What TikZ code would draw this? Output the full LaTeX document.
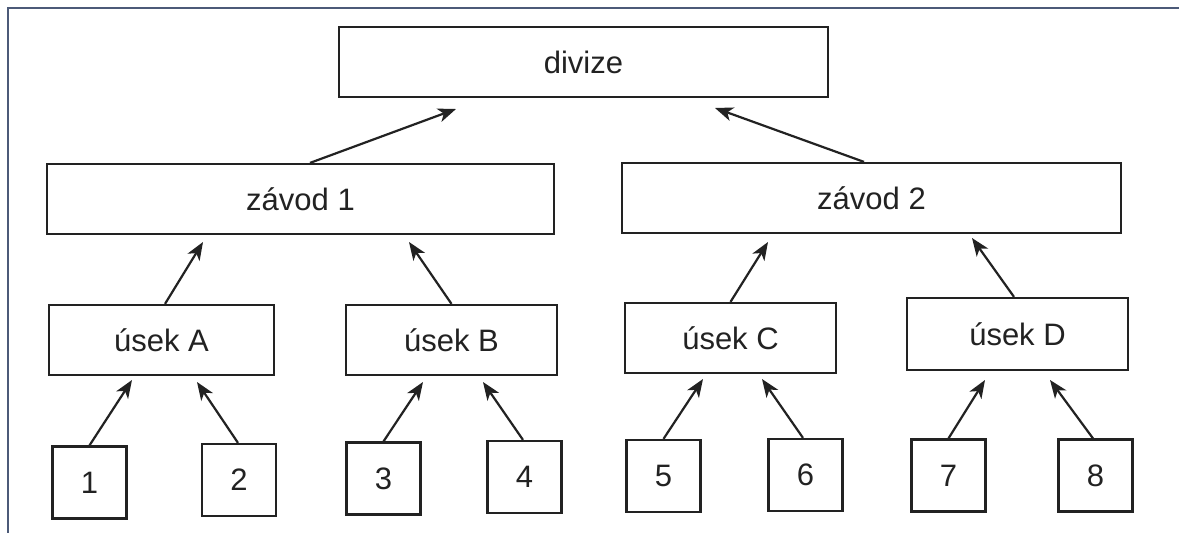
\documentclass[tikz,border=0pt]{standalone}
\usepackage{fontspec}
\setmainfont{Liberation Sans}
\usetikzlibrary{arrows.meta}
\definecolor{ink}{HTML}{222222}
\definecolor{framecol}{HTML}{4C5A78}
\tikzset{
  box/.style={draw=ink, line width=2.2pt, rectangle, inner sep=0pt, font=\fontsize{31}{37}\selectfont, text=ink},
  numbox/.style={box, minimum width=74pt, minimum height=72pt},
  arr/.style={draw=ink, line width=2.2pt, -{Stealth[length=18pt,width=14pt,inset=5pt]}},
  framel/.style={draw=framecol, line width=2.5pt}
}
\begin{document}
\begin{tikzpicture}[x=1pt,y=-1pt]
\useasboundingbox (0,0) rectangle (1179,533);
\fill[white] (0,0) rectangle (1179,533);
\draw[framel] (8,533) -- (8,8) -- (1179,8);

% nodes
\node[box, minimum width=489pt, minimum height=70pt] (div) at (583.5,62) {divize};
\node[box, minimum width=507pt, minimum height=70pt] (z1) at (300.5,199) {závod 1};
\node[box, minimum width=499pt, minimum height=70pt] (z2) at (871.5,198) {závod 2};
\node[box, minimum width=225pt, minimum height=70pt] (uA) at (161.5,340) {úsek A};
\node[box, minimum width=211pt, minimum height=70pt] (uB) at (451.5,340) {úsek B};
\node[box, minimum width=211pt, minimum height=70pt] (uC) at (730.5,338) {úsek C};
\node[box, minimum width=221pt, minimum height=72pt] (uD) at (1017.5,334) {úsek D};
\node[numbox] (n1) at (89.5,482.5) {1};
\node[numbox] (n2) at (239,480) {2};
\node[numbox] (n3) at (383.5,478.5) {3};
\node[numbox] (n4) at (524.5,477) {4};
\node[numbox] (n5) at (663.5,476) {5};
\node[numbox] (n6) at (805.5,475) {6};
\node[numbox] (n7) at (948.5,475.5) {7};
\node[numbox] (n8) at (1095.5,475.5) {8};

% arrow tips
\coordinate (tz1) at (456,109);
\coordinate (tz2) at (715,108);
\coordinate (tA) at (203,242);
\coordinate (tB) at (409,242);
\coordinate (tC) at (768,242);
\coordinate (tD) at (972,238);
\coordinate (t1) at (132,380);
\coordinate (t2) at (197,382);
\coordinate (t3) at (423,382);
\coordinate (t4) at (483,382);
\coordinate (t5) at (703,379);
\coordinate (t6) at (762,379);
\coordinate (t7) at (985,380);
\coordinate (t8) at (1050,380);

% connectors
\draw[arr] ([xshift=9.5pt]z1.north) -- (tz1);
\draw[arr] ([xshift=-7.5pt]z2.north) -- (tz2);
\draw[arr] ([xshift=3.5pt]uA.north) -- (tA);
\draw[arr] (uB.north) -- (tB);
\draw[arr] (uC.north) -- (tC);
\draw[arr] ([xshift=-3.5pt]uD.north) -- (tD);
\draw[arr] (n1.north) -- (t1);
\draw[arr] ([xshift=-1pt]n2.north) -- (t2);
\draw[arr] (n3.north) -- (t3);
\draw[arr] ([xshift=-1.5pt]n4.north) -- (t4);
\draw[arr] (n5.north) -- (t5);
\draw[arr] ([xshift=-2.5pt]n6.north) -- (t6);
\draw[arr] (n7.north) -- (t7);
\draw[arr] ([xshift=-2.5pt]n8.north) -- (t8);
\end{tikzpicture}
\end{document}
